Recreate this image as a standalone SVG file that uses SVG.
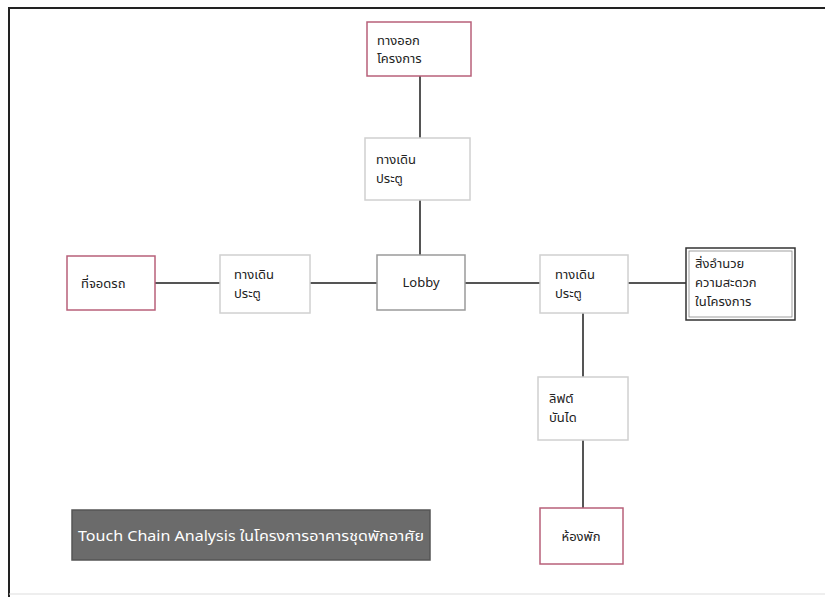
<svg xmlns="http://www.w3.org/2000/svg" width="825" height="597" viewBox="0 0 825 597">
<style>
.n{fill:#fff;stroke-width:1.5}
.pink{stroke:#b8607a}
.gray{stroke:#d0d0d0}
.mid{stroke:#9a9a9a}
.dark{stroke:#333}
text{font-family:"Noto Sans","Noto Sans Thai","Liberation Sans",sans-serif;font-size:13px;fill:#222}
.c line{stroke:#555;stroke-width:2}
</style>
<rect x="0" y="0" width="825" height="597" fill="#fff"/>
<line x1="8" y1="8" x2="825" y2="8" stroke="#222" stroke-width="2"/>
<line x1="9" y1="8" x2="9" y2="597" stroke="#222" stroke-width="2"/>
<line x1="9" y1="594" x2="825" y2="594" stroke="#ddd" stroke-width="1"/>
<g class="c" id="connectors">
<line x1="420" y1="76" x2="420" y2="138"/>
<line x1="420" y1="200" x2="420" y2="255"/>
<line x1="155" y1="283" x2="220" y2="283"/>
<line x1="310" y1="283" x2="377" y2="283"/>
<line x1="465" y1="283" x2="540" y2="283"/>
<line x1="628" y1="283" x2="686" y2="283"/>
<line x1="583" y1="313" x2="583" y2="377"/>
<line x1="583" y1="440" x2="583" y2="508"/>
</g>
<g id="exit">
<rect class="n pink" x="367" y="22" width="104" height="54"/>
<text x="377" y="45">ทางออก</text>
<text x="377" y="63">โครงการ</text>
</g>
<g id="walk-top">
<rect class="n gray" x="365" y="138" width="105" height="62"/>
<text x="376" y="164">ทางเดิน</text>
<text x="376" y="183">ประตู</text>
</g>
<g id="parking">
<rect class="n pink" x="67" y="256" width="88" height="54"/>
<text x="81" y="288">ที่จอดรถ</text>
</g>
<g id="walk-left">
<rect class="n gray" x="220" y="255" width="90" height="58"/>
<text x="234" y="279">ทางเดิน</text>
<text x="234" y="298">ประตู</text>
</g>
<g id="lobby">
<rect class="n mid" x="377" y="255" width="88" height="55"/>
<text x="421" y="287" text-anchor="middle">Lobby</text>
</g>
<g id="walk-right">
<rect class="n gray" x="540" y="255" width="88" height="58"/>
<text x="555" y="279">ทางเดิน</text>
<text x="555" y="298">ประตู</text>
</g>
<g id="facilities">
<rect class="n dark" x="686" y="248" width="109" height="72"/>
<rect x="689" y="251" width="103" height="66" fill="none" stroke="#888" stroke-width="0.8"/>
<text x="695" y="268">สิ่งอำนวย</text>
<text x="695" y="287">ความสะดวก</text>
<text x="695" y="306">ในโครงการ</text>
</g>
<g id="lift">
<rect class="n gray" x="538" y="377" width="90" height="63"/>
<text x="549" y="403">ลิฟต์</text>
<text x="549" y="422">บันได</text>
</g>
<g id="room">
<rect class="n pink" x="540" y="508" width="83" height="56"/>
<text x="581" y="541" text-anchor="middle">ห้องพัก</text>
</g>
<g id="title">
<rect x="72" y="510" width="358" height="50" fill="#6b6b6b" stroke="#555" stroke-width="1.5"/>
<text x="78" y="541" textLength="346" lengthAdjust="spacingAndGlyphs" style="fill:#fff;font-size:14px">Touch Chain Analysis ในโครงการอาคารชุดพักอาศัย</text>
</g>
</svg>
